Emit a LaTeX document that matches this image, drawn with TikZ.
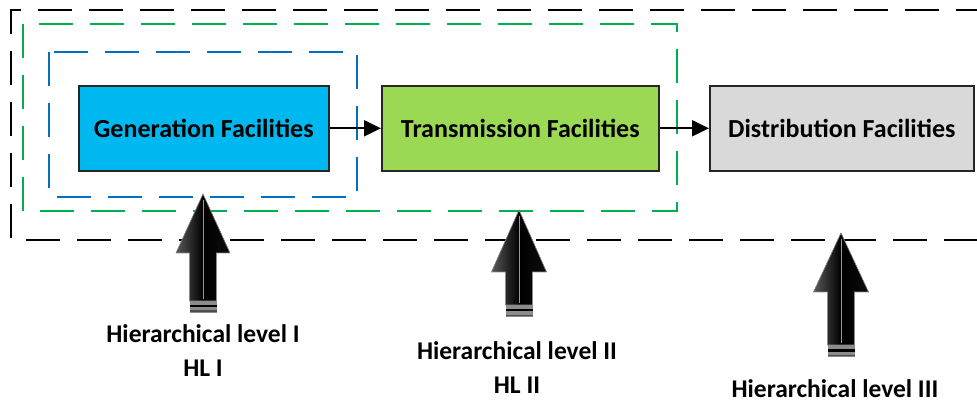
\documentclass[tikz,border=0pt]{standalone}
\usepackage{fontspec}
\setmainfont{Carlito}
\usetikzlibrary{arrows.meta}
\definecolor{gencyan}{RGB}{0,184,240}
\definecolor{trgreen}{RGB}{155,217,85}
\definecolor{dsgray}{RGB}{217,217,217}
\definecolor{hlgreen}{RGB}{0,176,80}
\definecolor{hlblue}{RGB}{0,112,192}
\tikzset{
  facbox/.style={draw=black!85, line width=1.6pt, minimum height=85pt, inner sep=0pt,
    font=\fontsize{26}{26}\selectfont\bfseries, anchor=north west},
  lvlframe/.style={line width=1.8pt, dash pattern=on 34pt off 17pt},
  flowarrow/.style={line width=2pt, -{Triangle[length=17pt,width=16pt]}},
  lvltext/.style={font=\fontsize{25.5}{34}\selectfont\bfseries, align=center, inner sep=0pt, anchor=base},
  bigarrowfill/.style={left color=black!65, right color=black!95, middle color=black, draw=black!45, line width=0.6pt}
}
\newcommand{\hlarrow}[5]{% x, ytip, ybase, ybottom, halfhead
  \fill[bigarrowfill] (#1,#2) -- (#1+#5,#3) -- (#1+13.5,#3) -- (#1+13.5,#4-12) -- (#1-13.5,#4-12) -- (#1-13.5,#3) -- (#1-#5,#3) -- cycle;
  \fill[black!45] (#1-13.5,#4-12) rectangle (#1+13.5,#4);
  \fill[black] (#1-13.5,#4-8) rectangle (#1+13.5,#4-5.5);
  \fill[black!70] (#1-13.5,#4-2.5) rectangle (#1+13.5,#4-1);
  \draw[black!40, line width=0.6pt] (#1,#2+6) -- (#1,#4-14);
}
\begin{document}
\begin{tikzpicture}[x=1pt,y=-1pt]
\useasboundingbox (0,0) rectangle (977,403);
\fill[white] (0,0) rectangle (977,403);
% frames
\draw[lvlframe, black] (990,10) -- (11,10) -- (11,240) -- (990,240);
\draw[lvlframe, hlgreen] (23,24) rectangle (677,211);
\draw[lvlframe, hlblue] (49,52) rectangle (357,197);
% boxes
\node[facbox, fill=gencyan, minimum width=250pt] (gen) at (78,85) {Generation Facilities};
\node[facbox, fill=trgreen, minimum width=277pt] (tra) at (381,85) {Transmission Facilities};
\node[facbox, fill=dsgray, minimum width=264pt] (dis) at (709,85) {Distribution Facilities};
\draw[flowarrow] (gen.east) -- (tra.west);
\draw[flowarrow] (tra.east) -- (dis.west);
% big arrows
\hlarrow{203}{194}{253}{313}{27}
\hlarrow{519}{210}{272}{317}{27.5}
\hlarrow{841}{233}{292}{357}{27.5}
% labels (base anchor = baseline of the last line)
\node[lvltext] (l1) at (203,376) {Hierarchical level I\\HL I};
\node[lvltext] (l2) at (517,393) {Hierarchical level II\\HL II};
\node[lvltext] (l3) at (835,397) {Hierarchical level III};
\end{tikzpicture}
\end{document}
